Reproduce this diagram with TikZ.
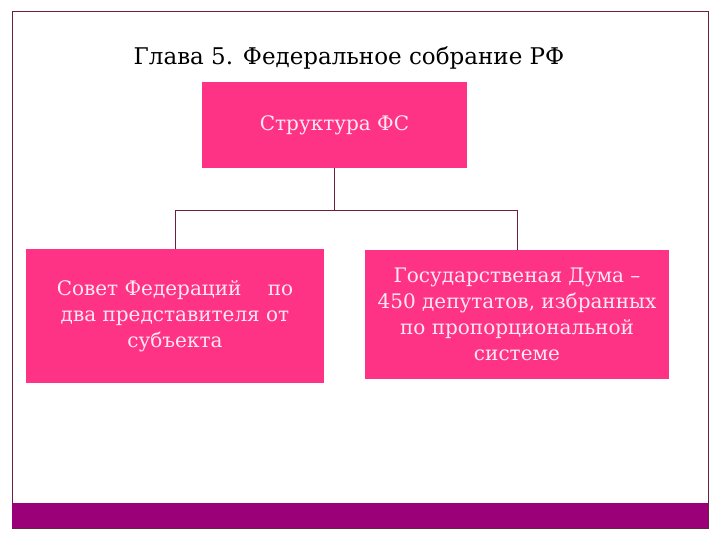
\documentclass[tikz,border=0pt]{standalone}
\usepackage{fontspec}
\setmainfont{DejaVu Serif}
\definecolor{pinkbox}{HTML}{FF3385}
\definecolor{barcol}{HTML}{9C0078}
\definecolor{linecol}{HTML}{6B2040}
\definecolor{txtcol}{HTML}{FFE8F2}
\begin{document}
\begin{tikzpicture}[x=1bp,y=-1bp,
  box/.style={fill=pinkbox,draw=none,text=txtcol,align=center,font=\fontsize{20bp}{26bp}\selectfont,inner sep=0pt},
  conn/.style={draw=linecol,line width=0.8bp}]
\useasboundingbox (0,0) rectangle (720,540);
\fill[white] (0,0) rectangle (720,540);
\draw[linecol,line width=1bp] (12,12) rectangle (708,528);
\fill[barcol] (12,503) rectangle (708,528);
\node[font=\fontsize{23bp}{26bp}\selectfont] (title) at (349,58) {Глава 5. Федеральное собрание РФ};
\node[box,minimum width=265bp,minimum height=86bp] (top) at (334.5,125) {Структура ФС};
\node[box,minimum width=298bp,minimum height=134bp] (left) at (175,316) {Совет Федераций \quad по\\два представителя от\\субъекта};
\node[box,minimum width=304bp,minimum height=129bp] (right) at (517,314.5) {Государственая Дума –\\450 депутатов, избранных\\по пропорциональной\\системе};
\coordinate (mid) at (334,210);
\draw[conn] (top.south -| mid) -- (mid);
\draw[conn] (left.north) -- (left.north |- mid) -- (right.north |- mid) -- (right.north);
\end{tikzpicture}
\end{document}
